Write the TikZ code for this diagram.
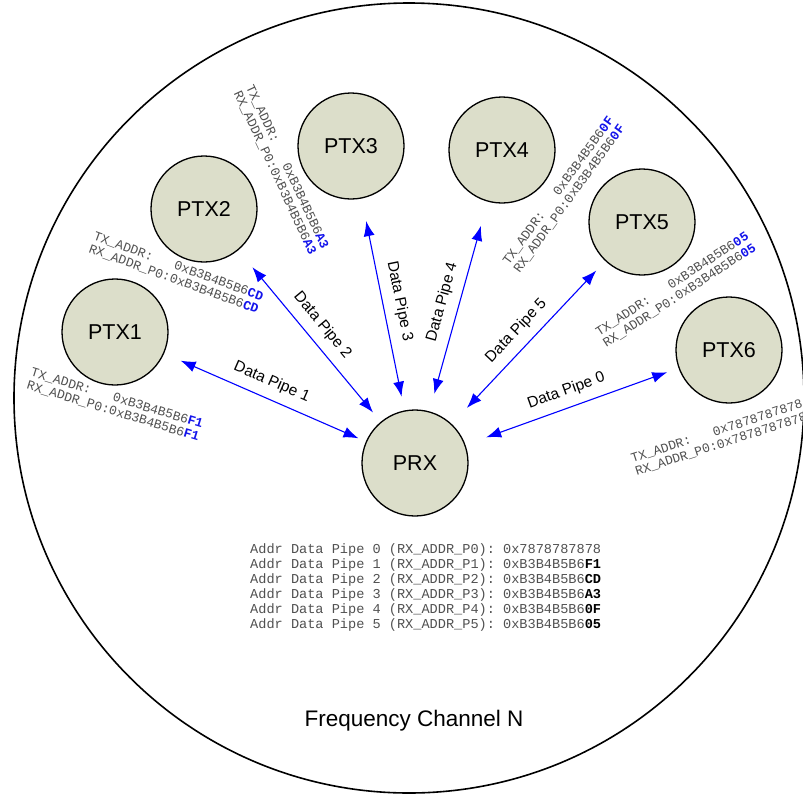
\documentclass[tikz,border=0pt]{standalone}
\usepackage{fontspec}
\setmainfont{Liberation Sans}
\setmonofont{Liberation Mono}
\usetikzlibrary{arrows.meta}
\definecolor{nodefill}{RGB}{220,222,202}
\definecolor{addrgray}{RGB}{80,80,80}
\definecolor{pipeblue}{RGB}{0,0,255}
\definecolor{hexblue}{RGB}{20,20,235}
\newcommand\addrpair[2]{TX\_ADDR:\phantom{000}#1{\bfseries\color{hexblue}#2}\\RX\_ADDR\_P0:#1{\bfseries\color{hexblue}#2}}
\begin{document}
\begin{tikzpicture}[x=1pt,y=-1pt,
  dev/.style={circle,draw=black,line width=1.3pt,fill=nodefill,minimum size=106pt,inner sep=0pt,font=\fontsize{21.5}{21.5}\selectfont},
  pipe/.style={draw=pipeblue,line width=1.1pt,{Latex[length=15pt,width=11pt]}-{Latex[length=15pt,width=11pt]}},
  pipelbl/.style={midway,sloped,above,font=\fontsize{15.5}{16}\selectfont,inner sep=9pt},
  addr/.style={font=\ttfamily\fontsize{13}{13.5}\selectfont,text=addrgray,align=left,inner sep=0pt},
  tbl/.style={font=\ttfamily\fontsize{13.6}{15}\selectfont,text=addrgray,align=left,inner sep=0pt},
]
\useasboundingbox (0,0) rectangle (803,793);
\node[circle,draw=black,line width=1.6pt,minimum size=790pt,inner sep=0pt] (chan) at (409,398) {};

\node[dev] (PTX1) at (115,332) {PTX1};
\node[dev] (PTX2) at (204,209) {PTX2};
\node[dev] (PTX3) at (351,146) {PTX3};
\node[dev] (PTX4) at (502,150) {PTX4};
\node[dev] (PTX5) at (642,222) {PTX5};
\node[dev] (PTX6) at (729,350) {PTX6};
\node[dev] (PRX) at (415,463) {PRX};

\draw[pipe,shorten <=18pt,shorten >=8pt] (PTX1) -- node[pipelbl]{Data Pipe 1} (PRX);
\draw[pipe,shorten <=22pt,shorten >=12pt] (PTX2) -- node[pipelbl]{Data Pipe 2} (PRX);
\draw[pipe,shorten <=23pt,shorten >=14pt] (PTX3) -- node[pipelbl]{Data Pipe 3} (PRX);
\draw[pipe,shorten <=25pt,shorten >=18pt] (PTX4) -- node[pipelbl]{Data Pipe 4} (PRX);
\draw[pipe,shorten <=13pt,shorten >=22pt] (PTX5) -- node[pipelbl]{Data Pipe 5} (PRX);
\draw[pipe,shorten <=12pt,shorten >=22pt] (PTX6) -- node[pipelbl]{Data Pipe 0} (PRX);

\node[addr,rotate=-17] (a1) at (115,405) {\addrpair{0xB3B4B5B6}{F1}};
\node[addr,rotate=-20] (a2) at (176,273) {\addrpair{0xB3B4B5B6}{CD}};
\node[addr,rotate=-65] (a3) at (281,170) {\addrpair{0xB3B4B5B6}{A3}};
\node[addr,rotate=54] (a4) at (564,195) {\addrpair{0xB3B4B5B6}{0F}};
\node[addr,rotate=33] (a5) at (676,290) {\addrpair{0xB3B4B5B6}{05}};
\node[addr,rotate=18] (a6) at (719,438) {TX\_ADDR:\phantom{000}0x7878787878\\RX\_ADDR\_P0:0x7878787878};

\node[tbl,anchor=north west] (table) at (250,543) {Addr Data Pipe 0 (RX\_ADDR\_P0): 0x7878787878\\
Addr Data Pipe 1 (RX\_ADDR\_P1): 0xB3B4B5B6{\bfseries\color{black}F1}\\
Addr Data Pipe 2 (RX\_ADDR\_P2): 0xB3B4B5B6{\bfseries\color{black}CD}\\
Addr Data Pipe 3 (RX\_ADDR\_P3): 0xB3B4B5B6{\bfseries\color{black}A3}\\
Addr Data Pipe 4 (RX\_ADDR\_P4): 0xB3B4B5B6{\bfseries\color{black}0F}\\
Addr Data Pipe 5 (RX\_ADDR\_P5): 0xB3B4B5B6{\bfseries\color{black}05}};

\node[font=\fontsize{22.5}{22.5}\selectfont] (freq) at (414,721) {Frequency Channel N};
\end{tikzpicture}
\end{document}
